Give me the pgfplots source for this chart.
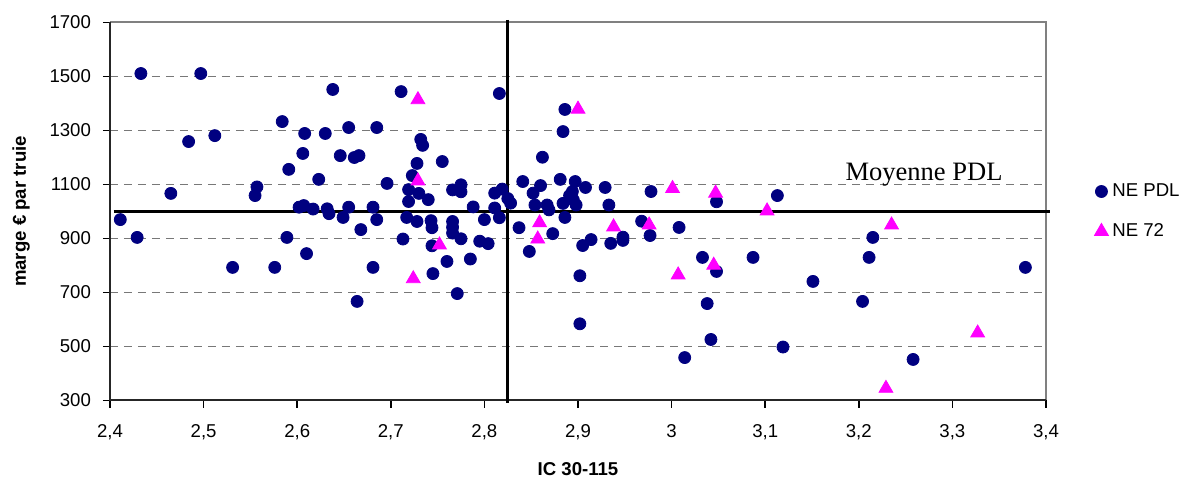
\documentclass[border=0pt]{standalone}
\usepackage{pgfplots}
\pgfplotsset{compat=1.18}
\usepackage{pgfplotstable}
\usepackage{fontspec}
\setmainfont{Liberation Sans}
\newfontfamily\timesfont{Liberation Serif}
\definecolor{navy}{HTML}{000080}
\definecolor{mag}{HTML}{FF00FF}
\definecolor{gridgrey}{HTML}{787878}
\definecolor{framegrey}{HTML}{808080}

\pgfplotstableread{
x y
2.433 1511
2.497 1511
2.638 1452
2.711 1444
2.816 1437
2.584 1333
2.512 1281
2.484 1259
2.608 1289
2.630 1289
2.655 1311
2.685 1311
2.606 1215
2.646 1207
2.661 1200
2.666 1207
2.591 1156
2.623 1119
2.696 1104
2.465 1067
2.557 1091
2.555 1059
2.719 1081
2.719 1037
2.723 1133
2.728 1178
2.732 1267
2.734 1245
2.755 1185
2.730 1067
2.740 1044
2.602 1016
2.607 1022
2.617 1009
2.632 1010
2.634 992
2.649 978
2.655 1016
2.681 1016
2.685 970
2.668 933
2.589 904
2.610 844
2.576 793
2.531 793
2.681 793
2.411 970
2.429 904
2.664 667
2.713 898
2.717 978
2.728 963
2.743 966
2.744 940
2.766 963
2.766 942
2.766 920
2.775 899
2.744 873
2.760 815
2.785 824
2.745 770
2.771 696
2.766 1080
2.775 1099
2.775 1073
2.788 1017
2.800 970
2.795 890
2.804 881
2.811 1068
2.819 1083
2.825 1048
2.828 1031
2.811 1013
2.816 977
2.862 1201
2.886 1378
2.884 1296
2.841 1111
2.860 1096
2.852 1068
2.854 1024
2.867 1024
2.869 1006
2.881 1119
2.897 1111
2.908 1089
2.894 1074
2.891 1059
2.895 1043
2.884 1030
2.898 1024
2.886 978
2.929 1089
2.933 1024
2.837 940
2.873 918
2.848 852
2.902 762
2.902 584
2.905 874
2.914 896
2.935 882
2.948 905
2.948 893
2.968 964
2.978 1074
2.977 911
3.008 941
3.033 830
3.048 778
3.038 659
3.042 526
3.014 459
3.048 1036
3.113 1059
3.087 830
3.215 904
3.211 830
3.204 667
3.151 741
3.119 498
3.258 452
3.378 793
}\pdl

\pgfplotstableread{
x y
2.729 1414
2.900 1379
2.729 1113
2.724 751
2.752 876
2.859 958
2.857 898
2.938 943
2.976 950
3.001 1085
3.047 1068
3.007 765
3.045 801
3.102 1002
3.235 950
3.327 550
3.229 345
}\ne

\begin{document}
\begin{tikzpicture}
\useasboundingbox (-55pt,-40.65pt) rectangle (537pt,200.25pt);
\begin{axis}[
  at={(0,0)}, anchor=south west,
  scale only axis, width=468pt, height=189pt,
  xmin=2.4, xmax=3.4, ymin=300, ymax=1700,
  clip=false,
  axis line style={draw=none},
  xtick={2.4,2.5,2.6,2.7,2.8,2.9,3.0,3.1,3.2,3.3,3.4},
  ytick={300,500,700,900,1100,1300,1500,1700},
  xtick pos=left, ytick pos=left,
  tick align=outside,
  major tick length=3.5pt,
  tick style={black, line width=0.75pt},
  /pgf/number format/assume math mode=true,
  /pgf/number format/use comma,
  /pgf/number format/1000 sep={},
  ticklabel style={font=\fontsize{9.3}{11}\selectfont},
  xticklabel style={yshift=-5pt},
  yticklabel style={xshift=-2.5pt},
  ymajorgrids,
  grid style={gridgrey, line width=0.75pt, dash pattern=on 4pt off 3pt},
  xlabel={\textbf{IC 30-115}},
  ylabel={\textbf{marge € par truie}},
  label style={font=\fontsize{9.3}{11}\selectfont},
  xlabel style={at={(axis description cs:0.5,-0.182)}, anchor=center},
  ylabel style={at={(axis description cs:-0.0951,0.5)}, anchor=center},
  legend style={draw=none, fill=none, font=\fontsize{9.3}{11}\selectfont,
    at={(axis description cs:1.045,0.5)}, anchor=west, row sep=8pt,
    legend cell align=left},
  legend image code/.code={\draw[mark repeat=2,mark phase=2,#1] plot coordinates {(0cm,0cm) (0.15cm,0cm) (0.3cm,0cm)};},
]
\draw[framegrey, line width=1pt] (rel axis cs:0,1) -- (rel axis cs:1,1) -- (rel axis cs:1,0);
\draw[black!85, line width=1pt] (rel axis cs:0,1) -- (rel axis cs:0,0) -- (rel axis cs:1,0);
\addplot[only marks, mark=*, mark size=3pt, draw=navy, fill=navy] table[x=x,y=y] {\pdl};
\addlegendentry{NE PDL}
\addplot[only marks, mark=triangle*, mark size=4pt, draw=mag, fill=mag] table[x=x,y=y] {\ne};
\addlegendentry{NE 72}
\addplot[black, line width=1.5pt, forget plot] coordinates {(2.404,1001.5) (3.404,1001.5)};
\addplot[black, line width=1.5pt, forget plot] coordinates {(2.8245,1710) (2.8245,290)};
\node[font=\timesfont\fontsize{13.27}{15}\selectfont] at (axis cs:3.2697,1136) {Moyenne PDL};
\end{axis}
\end{tikzpicture}
\end{document}
